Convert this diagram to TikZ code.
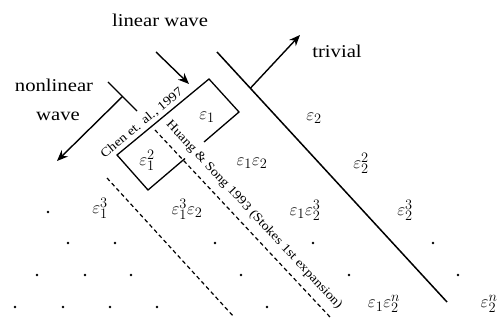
\documentclass[tikz,border=0pt]{standalone}
\usepackage{fontspec}
\setmainfont{Liberation Serif}[FakeStretch=1.15]
\usetikzlibrary{arrows.meta,calc}
\begin{document}
\begin{tikzpicture}[x=1pt,y=-1pt,
  lbl/.style={font=\fontsize{18}{20}\selectfont, inner sep=0pt},
  eps/.style={font=\fontsize{19}{22}\selectfont, inner sep=0pt},
  cite/.style={font=\fontsize{12.5}{14}\selectfont, inner sep=0pt},
  bound/.style={line width=1.3pt},
  arr/.style={line width=1.4pt,-{Stealth[length=11pt,width=9pt]}},
  dashline/.style={line width=1.2pt,dash pattern=on 4pt off 3pt},
  dotnode/.style={circle,fill,inner sep=0pt,minimum size=2.6pt}
]
\useasboundingbox (0,0) rectangle (500,320);

% texts
\node[lbl] (linear) at (160,20) {linear wave};
\node[lbl] (nonlin) at (54,85) {nonlinear};
\node[lbl] (wave) at (58,116) {wave};
\node[lbl] (trivial) at (337,51) {trivial};

% box
\coordinate (bT) at (209,79);
\coordinate (bR) at (239,112);
\coordinate (bB) at (148,190);
\coordinate (bL) at (117,155);
\coordinate (g1) at (185,158.5);
\coordinate (g2) at (204,142);
\draw[bound,line join=miter] (g2) -- (bR) -- (bT) -- (bL) -- (bB) -- (g1);

% trivial boundary
\coordinate (tA) at (217,52);
\coordinate (tB) at (447,302);
\coordinate (tM) at ($(tA)!0.145!(tB)$);
\coordinate (tE) at (300,35);
\draw[line width=1.5pt] (tA) -- (tB);
\draw[arr] (tM) -- (tE);

% linear wave arrow
\coordinate (lA) at (156,52);
\coordinate (lB) at (189,84);
\draw[arr] (lA) -- (lB);

% nonlinear wave
\coordinate (nA) at (108,82);
\coordinate (nB) at (137,111);
\coordinate (nM) at ($(nA)!0.5!(nB)$);
\coordinate (nE) at (57,161);
\draw[bound] (nA) -- (nB);
\draw[arr] (nM) -- (nE);

% dashed lines
\coordinate (hA) at (155,130);
\coordinate (hB) at (330,317);
\coordinate (cA) at (107,178);
\coordinate (cB) at (234,317);
\draw[dashline] (hA) -- (hB);
\draw[dashline] (cA) -- (cB);

% citations
\node[cite, rotate=39.5] (chen) at (142,123) {Chen et. al., 1997};
\node[cite, rotate=-47] (huang) at (254,215) {Huang \& Song 1993 (Stokes 1st expansion)};

% epsilon terms
\node[eps] (e1) at (207,117) {$\varepsilon_1$};
\node[eps] (e2) at (314,118) {$\varepsilon_2$};
\node[eps] (e11) at (147,160) {$\varepsilon_1^2$};
\node[eps] (e12) at (252,163) {$\varepsilon_1\varepsilon_2$};
\node[eps] (e22) at (361,163) {$\varepsilon_2^2$};
\node[eps] (e111) at (100,208) {$\varepsilon_1^3$};
\node[eps] (e112) at (187,209) {$\varepsilon_1^3\varepsilon_2$};
\node[eps] (e122) at (305,210) {$\varepsilon_1\varepsilon_2^3$};
\node[eps] (e222) at (405,210) {$\varepsilon_2^3$};
\node[eps] (e1n) at (384,304) {$\varepsilon_1\varepsilon_2^n$};
\node[eps] (e2n) at (489,304) {$\varepsilon_2^n$};

% dots
\node[dotnode] (dx) at (48,212) {};
\foreach \x in {68,115,215,313,433} \node[dotnode] (da\x) at (\x,243) {};
\foreach \x in {37,85,131,241,349,458} \node[dotnode] (db\x) at (\x,275) {};
\foreach \x in {15,63,110,157,267} \node[dotnode] (dc\x) at (\x,307) {};
\end{tikzpicture}
\end{document}
